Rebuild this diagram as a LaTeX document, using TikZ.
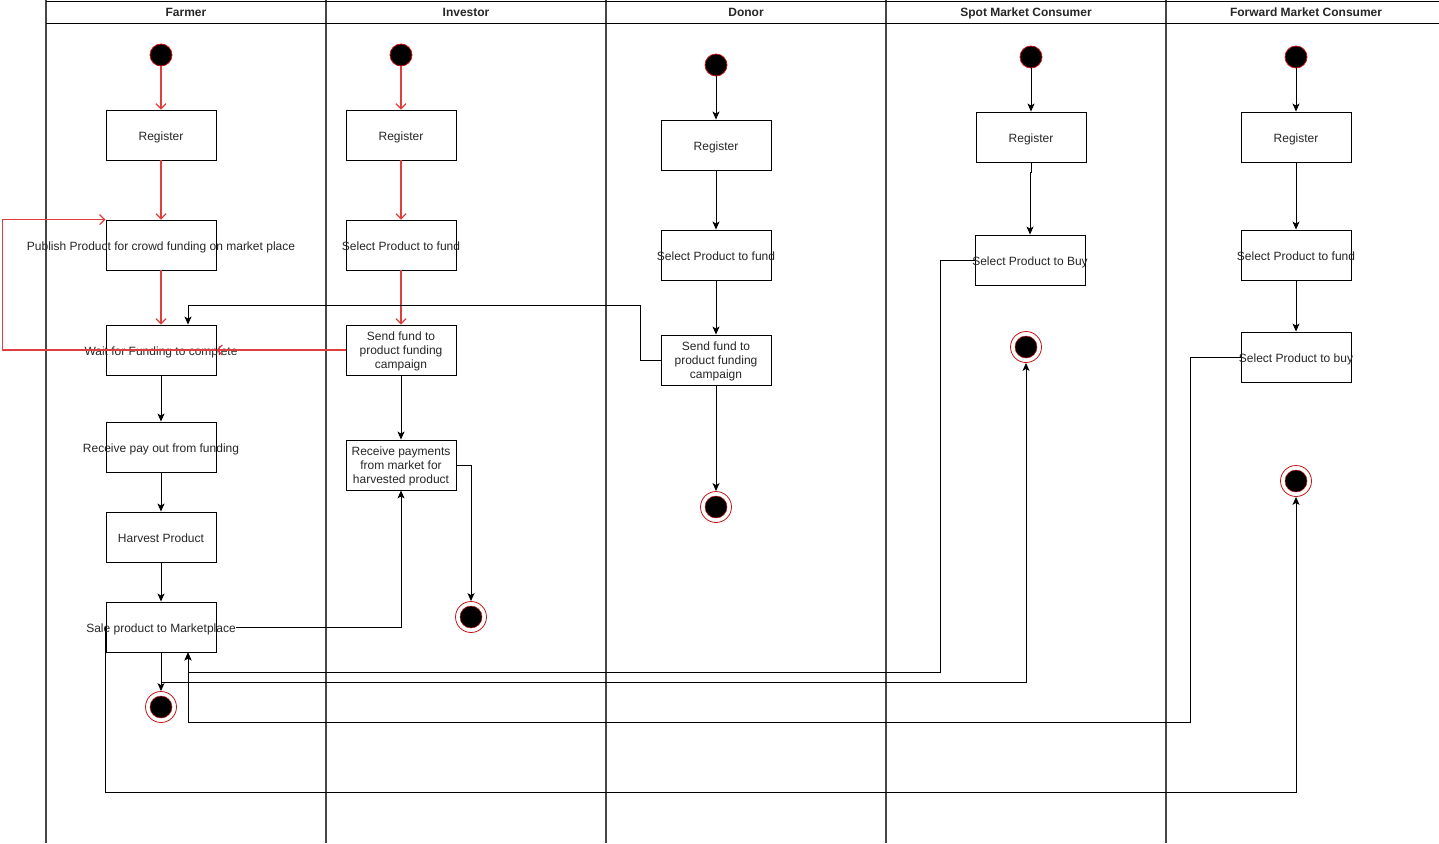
\documentclass[tikz,border=0pt]{standalone}
\usepackage{fontspec}
\setmainfont{Liberation Sans}
\usetikzlibrary{arrows.meta,calc}
\definecolor{circred}{RGB}{200,20,20}
\definecolor{linered}{RGB}{222,62,62}
\definecolor{lanegray}{RGB}{70,70,70}
\begin{document}
\begin{tikzpicture}[x=1pt,y=-1pt,
  lane/.style={draw=lanegray,line width=1.6pt},
  hdr/.style={font=\fontsize{12}{14}\selectfont\bfseries,inner sep=0pt,text=black!85,text height=8.6pt,text depth=2.6pt},
  txt/.style={font=\fontsize{12}{14}\selectfont,inner sep=0pt,align=center,text=black!85,text height=8.6pt,text depth=2.6pt,yshift=-2.5pt},
  mtxt/.style={font=\fontsize{12}{14}\selectfont,inner sep=0pt,align=center,text=black!85,yshift=-1.8pt},
  box/.style={draw=black,line width=0.9pt,minimum width=110pt,minimum height=50pt,inner sep=0pt},
  startnode/.style={circle,fill=black,draw=circred,line width=0.8pt,minimum size=22pt,inner sep=0pt},
  endnode/.style={circle,draw=circred,fill=white,line width=0.8pt,minimum size=31pt,inner sep=0pt,
    path picture={\draw[fill=black,draw=circred,line width=0.5pt] (path picture bounding box.center) circle (11pt);}},
  rarr/.style={draw=linered,line width=1.25pt,-{Straight Barb[length=5pt,width=10pt]}},
  barr/.style={draw=black,line width=0.9pt,-{Stealth[length=8pt,width=7pt,inset=2pt]}}
]
\useasboundingbox (0,0) rectangle (1439,843);
% lanes
\foreach \x in {46,326,606,886,1166} \draw[lane] (\x,0) -- (\x,843);
\draw[black,line width=0.9pt] (46,1) -- (1439,1);
\draw[black,line width=0.9pt] (46,23) -- (1439,23);
\node[hdr] (h1) at (186,13.5) {Farmer};
\node[hdr] (h2) at (466,13.5) {Investor};
\node[hdr] (h3) at (746,13.5) {Donor};
\node[hdr] (h4) at (1026,13.5) {Spot Market Consumer};
\node[hdr] (h5) at (1306,13.5) {Forward Market Consumer};

% Farmer
\node[startnode] (fs) at (161,55) {};
\node[box,label={[txt]center:Register}] (fReg) at (161,135) {};
\node[box,label={[txt]center:Publish Product for crowd funding on market place}] (fPub) at (161,245) {};
\node[box,label={[txt]center:Wait for Funding to complete}] (fWait) at (161,350) {};
\node[box,label={[txt]center:Receive pay out from funding}] (fRecv) at (161,447) {};
\node[box,label={[txt]center:Harvest Product}] (fHarv) at (161,537) {};
\node[box,label={[txt,name=saleT]center:Sale product to Marketplace}] (fSale) at (161,627) {};
\node[endnode] (fEnd) at (161,707) {};

% Investor
\node[startnode] (is) at (401,55) {};
\node[box,label={[txt]center:Register}] (iReg) at (401,135) {};
\node[box,label={[txt]center:Select Product to fund}] (iSel) at (401,245) {};
\node[box,label={[mtxt]center:Send fund to\\product funding\\campaign}] (iSend) at (401,350) {};
\node[box,label={[mtxt]center:Receive payments\\from market for\\harvested product}] (iRecv) at (401,465) {};
\node[endnode] (iEnd) at (471,617) {};

% Donor
\node[startnode] (ds) at (716,65) {};
\node[box,label={[txt]center:Register}] (dReg) at (716,145) {};
\node[box,label={[txt]center:Select Product to fund}] (dSel) at (716,255) {};
\node[box,label={[mtxt]center:Send fund to\\product funding\\campaign}] (dSend) at (716,360) {};
\node[endnode] (dEnd) at (716,507) {};

% Spot market
\node[startnode] (ss) at (1031,57) {};
\node[box,label={[txt]center:Register}] (sReg) at (1031,137) {};
\node[box,label={[txt]center:Select Product to Buy}] (sSel) at (1030,260) {};
\node[endnode] (sEnd) at (1026,347) {};

% Forward market
\node[startnode] (ws) at (1296,57) {};
\node[box,label={[txt]center:Register}] (wReg) at (1296,137) {};
\node[box,label={[txt]center:Select Product to fund}] (wSelF) at (1296,255) {};
\node[box,label={[txt]center:Select Product to buy}] (wSelB) at (1296,357) {};
\node[endnode] (wEnd) at (1296,481) {};

% red edges
\draw[rarr] (fs) -- (fReg);
\draw[rarr] (fReg) -- (fPub);
\draw[rarr] (fPub) -- (fWait);
\draw[rarr] (is) -- (iReg);
\draw[rarr] (iReg) -- (iSel);
\draw[rarr] (iSel) -- (iSend);
\draw[rarr] (iSend.west) -- (fWait.east);
\draw[rarr] (fWait.east) -- ++(-214,0) |- (fPub.north west);

% black edges farmer
\draw[barr] (fWait) -- (fRecv);
\draw[barr] (fRecv) -- (fHarv);
\draw[barr] (fHarv) -- (fSale);
\draw[barr] (fSale) -- (fEnd);
\draw[barr] (fSale.center -| saleT.east) -| (iRecv.south);
\draw[barr] (fSale.south) -- ++(0,30) -| (sEnd.south);
\draw[barr] (fSale.west) -- ++(0,165) -| (wEnd.south);

% investor
\draw[barr] (iSend) -- (iRecv);
\draw[barr] (iRecv.east) -| (iEnd.north);

% donor
\draw[barr] (ds) -- (dReg);
\draw[barr] (dReg) -- (dSel);
\draw[barr] (dSel) -- (dSend);
\draw[barr] (dSend) -- (dEnd);
\draw[barr] (dSend.west) -- ++(-20,0) -- ++(0,-55) -| ($(fWait.north)+(27,0)$);

% spot
\draw[barr] (ss) -- (sReg);
\draw[barr] (sReg.south) -- ++(0,10) -| (sSel.north);
\draw[barr] (sSel.west) -- ++(-34,0) |- ($(fSale.south)+(27,20)$) -- ($(fSale.south)+(27,0)$);

% forward
\draw[barr] (ws) -- (wReg);
\draw[barr] (wReg) -- (wSelF);
\draw[barr] (wSelF) -- (wSelB);
\draw[barr] (wSelB.west) -- ++(-50,0) |- ($(fSale.south)+(27,70)$) -- ($(fSale.south)+(27,0)$);
\end{tikzpicture}
\end{document}
